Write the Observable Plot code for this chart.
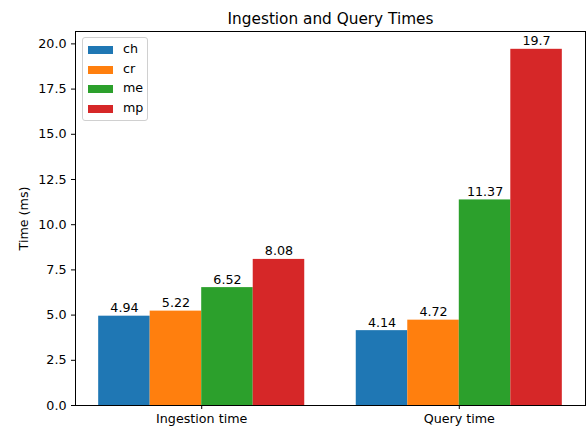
<!DOCTYPE html>
<html><head><meta charset="utf-8">
<script src="https://cdn.jsdelivr.net/npm/d3@7"></script>
<script src="https://cdn.jsdelivr.net/npm/@observablehq/plot@0.6"></script>
<style>
body{margin:0;background:#fff;font-family:"DejaVu Sans",sans-serif;}
#wrap{position:relative;width:587px;height:430px;}
#legend{position:absolute;left:82px;top:37px;width:64px;padding:2px 0;border:1px solid #d0d0d0;border-radius:3px;background:rgba(255,255,255,0.8);font-size:12.7px;color:#000;}
.row{position:relative;height:19.5px;}
.sw{position:absolute;left:5px;top:6px;width:25px;height:8px;}
.lb{position:absolute;left:40px;top:1px;line-height:16px;}
</style></head><body><div id="wrap"></div>
<script>
const categories = ["Ingestion time", "Query time"];
const seriesNames = ["ch", "cr", "me", "mp"];
const seriesColors = ["#1f77b4", "#ff7f0e", "#2ca02c", "#d62728"];
const ch = [4.94, 4.14];
const cr = [5.22, 4.72];
const me = [6.52, 11.37];
const mp = [8.08, 19.7];
const yTicks = [0, 2.5, 5, 7.5, 10, 12.5, 15, 17.5, 20];
const title = "Ingestion and Query Times";
const yLabel = "Time (ms)";

const seriesValues = [ch, cr, me, mp];
const barW = 0.2;
const rows = [];
seriesNames.forEach((s, j) => {
  categories.forEach((c, i) => {
    const xc = i + (j - (seriesNames.length - 1) / 2) * barW;
    rows.push({series: s, category: c, value: seriesValues[j][i], xc, x1: xc - barW / 2, x2: xc + barW / 2});
  });
});
const xMin = -0.4, xMax = 1.4, m = (xMax - xMin) * 0.05;
const yMax = d3.max(rows, d => d.value) * 1.05;

const chart = Plot.plot({
  width: 587, height: 430,
  marginTop: 31, marginLeft: 75, marginRight: 2, marginBottom: 25,
  style: {fontFamily: "DejaVu Sans", fontSize: "12.7px", color: "#000", background: "#fff"},
  x: {type: "linear", domain: [xMin - m, xMax + m]},
  y: {domain: [0, yMax]},
  color: {domain: seriesNames, range: seriesColors},
  marks: [
    Plot.rect(rows, {x1: "x1", x2: "x2", y1: 0, y2: "value", fill: "series"}),
    Plot.text(rows, {x: "xc", y: "value", text: d => String(d.value), lineAnchor: "bottom", dy: -4, fill: "#000", fontSize: 12.7}),
    Plot.frame({stroke: "#000", strokeWidth: 1}),
    Plot.axisX({ticks: [0, 1], tickFormat: i => categories[i], tickSize: 4, tickPadding: 4, label: null}),
    Plot.axisY({ticks: yTicks, tickFormat: d => d.toFixed(1), tickSize: 4, tickPadding: 5, label: yLabel, labelAnchor: "center", labelArrow: "none", labelOffset: 57}),
    Plot.text([title], {frameAnchor: "top", lineAnchor: "bottom", dy: -8, fontSize: 15.3, fill: "#000"})
  ]
});
const wrap = document.getElementById("wrap");
wrap.appendChild(chart);

const legend = document.createElement("div");
legend.id = "legend";
seriesNames.forEach((s, j) => {
  const r = document.createElement("div"); r.className = "row";
  const sw = document.createElement("div"); sw.className = "sw"; sw.style.background = seriesColors[j];
  const lb = document.createElement("div"); lb.className = "lb"; lb.textContent = s;
  r.appendChild(sw); r.appendChild(lb); legend.appendChild(r);
});
wrap.appendChild(legend);
</script>
</body></html>
